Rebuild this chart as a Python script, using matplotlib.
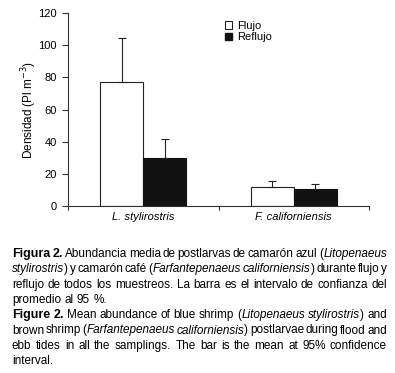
import matplotlib
matplotlib.use('Agg')
import matplotlib.pyplot as plt
from matplotlib import font_manager
from matplotlib.transforms import IdentityTransform
from matplotlib.patches import Patch

names = set(f.name for f in font_manager.fontManager.ttflist)
fam = 'Liberation Sans Narrow' if 'Liberation Sans Narrow' in names else 'Liberation Sans'
plt.rcParams['font.family'] = [fam, 'DejaVu Sans']

species = ['L. stylirostris', 'F. californiensis']
flujo = [77.3, 11.6]
flujo_err = [27.4, 3.8]
reflujo = [29.8, 10.8]
reflujo_err = [11.7, 2.9]

caption = [
    ([('Figura 2.', 'b'), (' Abundancia media de postlarvas de camarón azul (', 'n'), ('Litopenaeus', 'i')], True),
    ([('stylirostris', 'i'), (') y camarón café (', 'n'), ('Farfantepenaeus californiensis', 'i'), (') durante flujo y', 'n')], True),
    ([('reflujo de todos los muestreos. La barra es el intervalo de confianza del', 'n')], True),
    ([('promedio al 95 %.', 'n')], False),
    ([('Figure 2.', 'b'), (' Mean abundance of blue shrimp (', 'n'), ('Litopenaeus stylirostris', 'i'), (') and', 'n')], True),
    ([('brown shrimp (', 'n'), ('Farfantepenaeus californiensis', 'i'), (') postlarvae during flood and', 'n')], True),
    ([('ebb tides in all the samplings. The bar is the mean at 95% confidence', 'n')], True),
    ([('interval.', 'n')], False),
]

fig = plt.figure(figsize=(3.95, 3.73), dpi=100)
ax = fig.add_axes([68/395, 1-206/373, 301/395, 193/373])

x = [0, 1]
w = 0.286
xf = [i - w/2 for i in x]
xr = [i + w/2 for i in x]
ax.bar(xf, flujo, w, color='white', edgecolor='#222222', linewidth=0.8, label='Flujo')
ax.bar(xr, reflujo, w, color='#111111', edgecolor='#111111', linewidth=0.8, label='Reflujo')
ax.errorbar(xf, flujo, yerr=[[0]*2, flujo_err], fmt='none', ecolor='#222222', elinewidth=0.8, capsize=3, capthick=0.8)
ax.errorbar(xr, reflujo, yerr=[[0]*2, reflujo_err], fmt='none', ecolor='#222222', elinewidth=0.8, capsize=3, capthick=0.8)

ax.set_xlim(-0.5, 1.5)
ax.set_ylim(0, 120)
ax.set_yticks(range(0, 121, 20))
ax.tick_params(axis='y', labelsize=8, length=4, width=0.8, pad=4, color='#333333')
ax.set_xticks([-0.5, 0.5, 1.5])
ax.set_xticklabels([])
ax.tick_params(axis='x', which='major', length=3, width=0.8, color='#333333')
ax.set_xticks(x, minor=True)
ax.set_xticklabels(species, minor=True, style='italic', fontsize=8)
ax.tick_params(axis='x', which='minor', length=0, pad=4)
for s in ['top', 'right']:
    ax.spines[s].set_visible(False)
for s in ['left', 'bottom']:
    ax.spines[s].set_color('#333333')
    ax.spines[s].set_linewidth(0.8)
ax.set_ylabel('Densidad (Pl m$^{-3}$)', fontsize=8.5)
ax.yaxis.set_label_coords(-0.098, 0.5)

handles = [Patch(facecolor='white', edgecolor='#222222', linewidth=0.8, label='Flujo'),
           Patch(facecolor='#111111', edgecolor='#111111', label='Reflujo')]
ax.legend(handles=handles, loc='upper left', bbox_to_anchor=(0.52, 0.96), frameon=False,
          fontsize=8, handlelength=0.7, handleheight=0.7, handletextpad=0.4,
          labelspacing=0.15, borderpad=0, borderaxespad=0)

# caption, justified line by line
r = fig.canvas.get_renderer()
fs = 8.5
left, right = 12, 387
y0 = 373 - 257
step = 15.3
styles = {'n': dict(fontsize=fs), 'b': dict(weight='bold', fontsize=fs + 0.4),
          'i': dict(style='italic', fontsize=fs)}

def measure(t, st):
    tt = fig.text(0, 0, t, **styles[st])
    wd = tt.get_window_extent(r).width
    tt.remove()
    return wd

sp = measure('a b', 'n') - measure('ab', 'n')
for li, (segs, just) in enumerate(caption):
    words, cur = [], []
    for t, st in segs:
        parts = t.split(' ')
        for k, p in enumerate(parts):
            if k > 0 and cur:
                words.append(cur)
                cur = []
            if p:
                cur.append((p, st))
    if cur:
        words.append(cur)
    widths = [[measure(p, st) for p, st in wd] for wd in words]
    total = sum(sum(ws) for ws in widths)
    gap = (right - left - total) / (len(words) - 1) if just and len(words) > 1 else sp
    xp = left
    yp = y0 - li * step
    for wd, ws in zip(words, widths):
        for (p, st), pw in zip(wd, ws):
            fig.text(xp, yp, p, transform=IdentityTransform(),
                     va='baseline', ha='left', **styles[st])
            xp += pw
        xp += gap

fig.savefig('out.png', dpi=100)
